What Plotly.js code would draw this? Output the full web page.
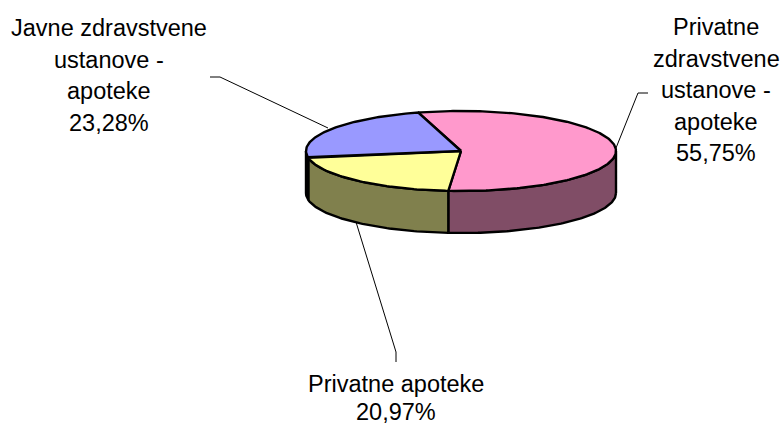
<!DOCTYPE html>
<html>
<head>
<meta charset="utf-8">
<script src="https://cdn.plot.ly/plotly-3.0.1.min.js"></script>
<style>html,body{margin:0;padding:0;background:#fff;overflow:hidden}#chart{width:784px;height:426px}</style>
</head>
<body>
<div id="chart"></div>
<script>
// Data, clockwise from the starting angle
const categories = ["Privatne zdravstvene ustanove - apoteke", "Privatne apoteke", "Javne zdravstvene ustanove - apoteke"];
const shares = [55.75, 20.97, 23.28];
const shareLabels = ["55,75%", "20,97%", "23,28%"];
const topColors = ["#FF99CC", "#FFFF99", "#9999FF"];
const wallColors = ["#804D66", "#80804D", "#4D4D80"];

// Projection of the tilted disc on a 784x426 pixel-like axis
const cx = 461, cy = 151, rx = 155, ry = 40, depth = 42, startAngle = -16;

function px(t) { return cx + rx * Math.sin(t * Math.PI / 180); }
function py(t, drop) { return cy + drop - ry * Math.cos(t * Math.PI / 180); }
function sweep(a, b) {
  const out = [];
  const n = Math.max(2, Math.ceil(Math.abs(b - a)));
  for (let i = 0; i <= n; i++) out.push(a + (b - a) * i / n);
  return out;
}

const traces = [];
let angle = startAngle;
const slices = shares.map(s => {
  const total = shares.reduce((p, c) => p + c, 0);
  const a = angle, b = angle + s / total * 360;
  angle = b;
  return [a, b];
});

function poly(xs, ys, fill, name) {
  traces.push({
    type: "scatter", mode: "lines", x: xs, y: ys, fill: "toself", fillcolor: fill,
    line: { color: "#000", width: 2.4 }, hoverinfo: "skip", showlegend: false, name: name
  });
}

// Side walls: only the front half of the rim shows
slices.forEach(([a, b], i) => {
  const lo = Math.max(a, 90), hi = Math.min(b, 270);
  if (hi <= lo) return;
  const ts = sweep(lo, hi);
  const back = ts.slice().reverse();
  poly(ts.map(px).concat(back.map(px)).concat([px(lo)]),
       ts.map(t => py(t, depth)).concat(back.map(t => py(t, 0))).concat([py(lo, depth)]),
       wallColors[i], categories[i] + " wall");
});
// Top faces
slices.forEach(([a, b], i) => {
  const ts = sweep(a, b);
  poly([cx].concat(ts.map(px)).concat([cx]),
       [cy].concat(ts.map(t => py(t, 0))).concat([cy]),
       topColors[i], categories[i]);
});

// Leader lines
const leaderBlueX = [210, 220, 328], leaderBlueY = [77, 77, 128];
const leaderPinkX = [648, 638, 616], leaderPinkY = [93, 93, 148];
const leaderOliveX = [356, 396, 396], leaderOliveY = [222, 352, 362];
[[leaderBlueX, leaderBlueY], [leaderPinkX, leaderPinkY], [leaderOliveX, leaderOliveY]].forEach(([x, y]) => {
  traces.push({ type: "scatter", mode: "lines", x: x, y: y, line: { color: "#000", width: 1 }, hoverinfo: "skip", showlegend: false });
});

// Labels, one entry per text line
const labelLinesA = ["Privatne", "zdravstvene", "ustanove -", "apoteke", shareLabels[0]];
const labelLinesB = ["Privatne apoteke", shareLabels[1]];
const labelLinesC = ["Javne zdravstvene", "ustanove -", "apoteke", shareLabels[2]];
const font = { family: "Liberation Sans, Arial, sans-serif", size: 23.5, color: "#000" };
const annotations = [];
function block(lines, x, y0, step) {
  lines.forEach((t, i) => annotations.push({
    text: t, x: x, y: y0 + i * step, xref: "x", yref: "y", showarrow: false,
    xanchor: "center", yanchor: "middle", font: font
  }));
}
block(labelLinesA, 716, 27, 31.5);
block(labelLinesB, 396, 384, 28);
block(labelLinesC, 109, 28, 31.5);

Plotly.newPlot("chart", traces, {
  width: 784, height: 426,
  margin: { l: 0, r: 0, t: 0, b: 0 },
  paper_bgcolor: "#fff", plot_bgcolor: "#fff",
  showlegend: false,
  xaxis: { range: [0, 784], visible: false, fixedrange: true },
  yaxis: { range: [426, 0], visible: false, fixedrange: true },
  annotations: annotations
}, { displayModeBar: false, staticPlot: true });
</script>
</body>
</html>
